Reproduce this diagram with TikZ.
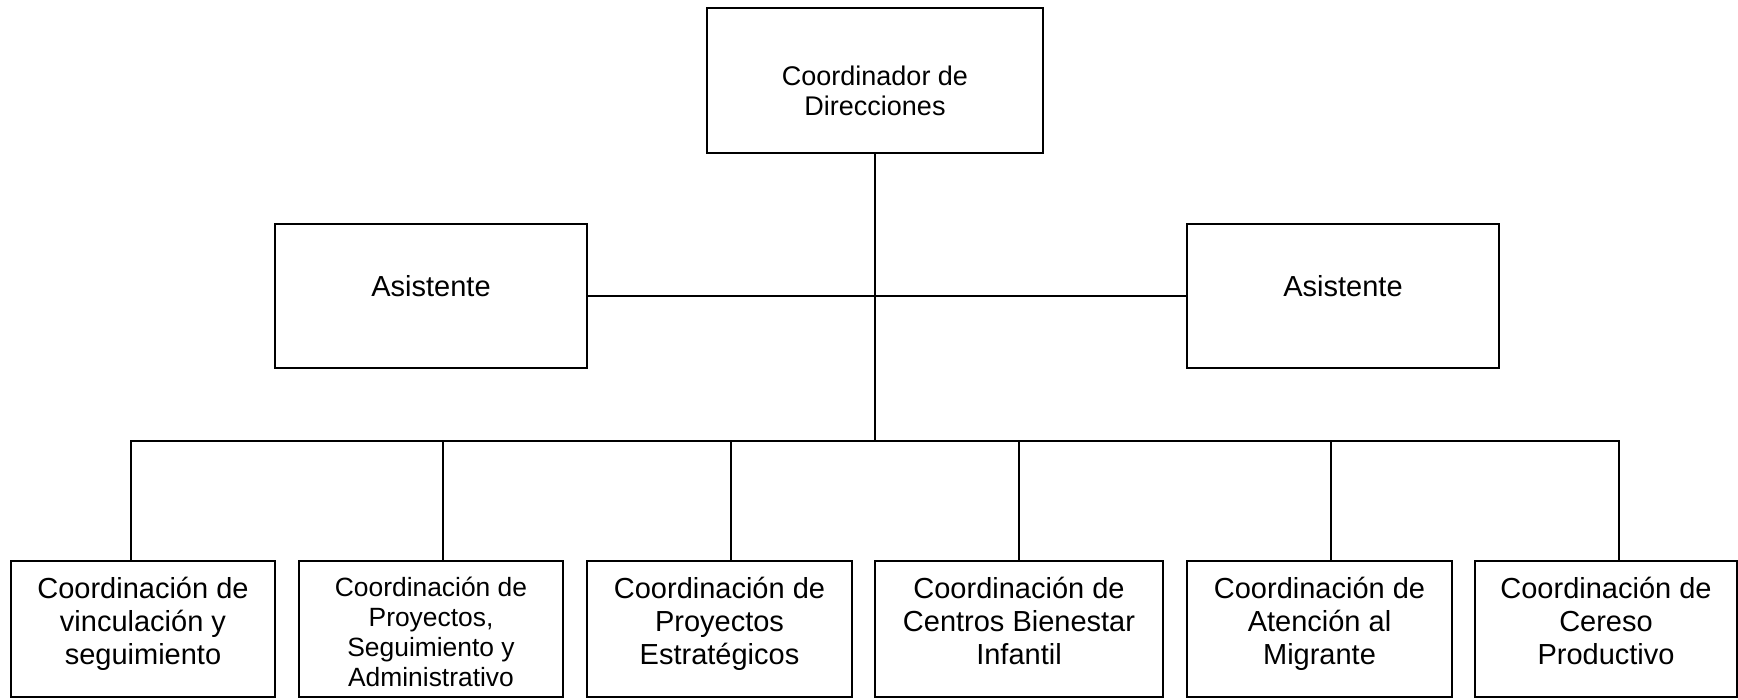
\documentclass[tikz,border=0pt]{standalone}
\usepackage{fontspec}
\setmainfont{Liberation Sans}
\newcommand\mylines[1]{\begin{tabular}[t]{@{}c@{}}#1\end{tabular}}
\tikzset{
  box/.style={draw, rectangle, line width=2pt, inner sep=0pt, fill=white},
  conn/.style={line width=2pt},
  txt/.style={inner sep=0pt, anchor=base, text=black},
  fbig/.style={font=\fontsize{29}{33.4}\selectfont},
  ftop/.style={font=\fontsize{27}{30.5}\selectfont},
  fsmall/.style={font=\fontsize{26.4}{30.3}\selectfont}
}
\begin{document}
\begin{tikzpicture}[x=1pt,y=-1pt]
\useasboundingbox (0,0) rectangle (1738,699);
% junction coordinates on the bus
\coordinate (j1) at (131,441);
\coordinate (j2) at (443,441);
\coordinate (j3) at (731,441);
\coordinate (j4) at (1019,441);
\coordinate (j5) at (1331,441);
\coordinate (j6) at (1619,441);
% top
\node[box, minimum width=336pt, minimum height=145pt] (top) at (875,80.5) {};
\node[txt, ftop] (ttop) at (875,85) {\mylines{Coordinador de\\Direcciones}};
% assistants
\node[box, minimum width=312pt, minimum height=144pt] (a1) at (431,296) {};
\node[txt, fbig] (ta1) at (431,296) {Asistente};
\node[box, minimum width=312pt, minimum height=144pt] (a2) at (1343,296) {};
\node[txt, fbig] (ta2) at (1343,296) {Asistente};
% bottom row
\node[box, minimum width=264pt, minimum height=136pt] (b1) at (143,629) {};
\node[box, minimum width=264pt, minimum height=136pt] (b2) at (431,629) {};
\node[box, minimum width=265pt, minimum height=136pt] (b3) at (719.5,629) {};
\node[box, minimum width=288pt, minimum height=136pt] (b4) at (1019,629) {};
\node[box, minimum width=265pt, minimum height=136pt] (b5) at (1319.5,629) {};
\node[box, minimum width=262pt, minimum height=136pt] (b6) at (1606,629) {};
\node[txt, fbig] (t1) at (143,598) {\mylines{Coordinación de\\vinculación y\\seguimiento}};
\node[txt, fsmall] (t2) at (431,596) {\mylines{Coordinación de\\Proyectos,\\Seguimiento y\\Administrativo}};
\node[txt, fbig] (t3) at (719.5,598) {\mylines{Coordinación de\\Proyectos\\Estratégicos}};
\node[txt, fbig] (t4) at (1019,598) {\mylines{Coordinación de\\Centros Bienestar\\Infantil}};
\node[txt, fbig] (t5) at (1319.5,598) {\mylines{Coordinación de\\Atención al\\Migrante}};
\node[txt, fbig] (t6) at (1606,598) {\mylines{Coordinación de\\Cereso\\Productivo}};
% connectors
\draw[conn] (top.south) -- (top.south |- j4);
\draw[conn] (a1.east) -- (a2.west);
\draw[conn] (j1 |- b1.north) -- (j1) -- (j6) -- (j6 |- b6.north);
\draw[conn] (j2) -- (j2 |- b2.north);
\draw[conn] (j3) -- (j3 |- b3.north);
\draw[conn] (j4) -- (j4 |- b4.north);
\draw[conn] (j5) -- (j5 |- b5.north);
\end{tikzpicture}
\end{document}
